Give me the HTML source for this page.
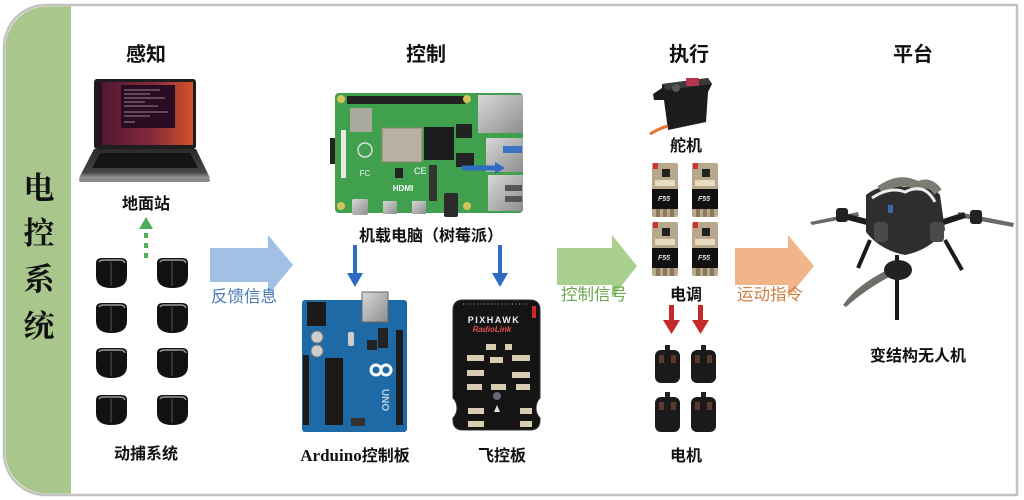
<!DOCTYPE html>
<html><head><meta charset="utf-8"><style>
html,body{margin:0;padding:0;background:#fff;}
svg{display:block;}
.h{font-family:"Liberation Sans","Noto Sans CJK SC",sans-serif;font-weight:bold;font-size:20px;fill:#111;text-anchor:middle;}
.l{font-family:"Liberation Sans","Noto Sans CJK SC",sans-serif;font-weight:bold;font-size:16px;fill:#111;text-anchor:middle;}
.a{font-family:"Liberation Sans","Noto Sans CJK SC",sans-serif;font-size:16.5px;text-anchor:middle;}
.v{font-family:"Liberation Serif","Noto Serif CJK SC",serif;font-weight:bold;font-size:31px;fill:#111;text-anchor:middle;}
</style></head><body>
<svg width="1024" height="500" viewBox="0 0 1024 500" xmlns="http://www.w3.org/2000/svg">
<defs>
<linearGradient id="scr" x1="0" y1="0" x2="1" y2="0"><stop offset="0" stop-color="#4a1634"/><stop offset="0.6" stop-color="#8a2a3a"/><stop offset="1" stop-color="#d2542a"/></linearGradient>
<linearGradient id="base" x1="0" y1="0" x2="0" y2="1"><stop offset="0" stop-color="#2a2a2a"/><stop offset="0.8" stop-color="#444"/><stop offset="1" stop-color="#9a9a9a"/></linearGradient>
<linearGradient id="slv" x1="0" y1="0" x2="1" y2="1"><stop offset="0" stop-color="#d8d8d8"/><stop offset="1" stop-color="#8e8e8e"/></linearGradient>
</defs>
<!-- frame -->
<path d="M46,5 H1017 V495 H46 A42,42 0 0 1 4,453 V47 A42,42 0 0 1 46,5 Z" fill="#fff" stroke="#c2c2c2" stroke-width="2.5"/>
<path d="M46,6.5 H71 V493.5 H46 A41,41 0 0 1 5.5,453 V47 A41,41 0 0 1 46,6.5 Z" fill="#a9c68d"/>
<text class="v" x="39" y="199">电</text>
<text class="v" x="39" y="244">控</text>
<text class="v" x="39" y="290">系</text>
<text class="v" x="39" y="337">统</text>

<!-- headings -->
<text class="h" x="146" y="61">感知</text>
<text class="h" x="426" y="61">控制</text>
<text class="h" x="689" y="61">执行</text>
<text class="h" x="913" y="61">平台</text>

<!-- laptop -->
<rect x="94" y="79" width="102" height="70" rx="3" fill="#1e1e1e"/>
<rect x="97" y="82" width="96" height="63" fill="url(#scr)"/>
<rect x="97" y="82" width="5" height="63" fill="#2d0f22"/>
<rect x="121" y="85" width="54" height="43" fill="#2a0c22"/>
<g stroke="#c9a9b8" stroke-width="0.8">
<line x1="124" y1="90" x2="160" y2="90"/><line x1="124" y1="94" x2="150" y2="94"/><line x1="124" y1="98" x2="165" y2="98"/>
<line x1="124" y1="102" x2="145" y2="102"/><line x1="124" y1="106" x2="158" y2="106"/><line x1="124" y1="112" x2="168" y2="112"/>
<line x1="124" y1="116" x2="150" y2="116"/><line x1="124" y1="122" x2="135" y2="122"/></g>
<polygon points="94,149 196,149 210,178 79,178" fill="url(#base)"/>
<polygon points="100,153 190,153 198,168 92,168" fill="#151515"/>
<rect x="79" y="178" width="131" height="4" rx="2" fill="#8a8a8a"/>
<text class="l" x="146" y="209">地面站</text>
<!-- dashed green arrow -->
<polygon points="146,217 139,229 153,229" fill="#4fae5a"/>
<g fill="#4fae5a"><rect x="144" y="233" width="4" height="5"/><rect x="144" y="243" width="4" height="5"/><rect x="144" y="253" width="4" height="5"/></g>

<!-- mocap cameras -->
<g id="cams">
<g transform="translate(96,258)"><path d="M0,5 Q0,0 6,0 H25 Q31,0 31,5 V18 Q31,30 15.5,30 Q0,30 0,18 Z" fill="#111"/><path d="M3,4 Q4,2 8,2 H24 Q28,2 29,5" stroke="#9a9a9a" stroke-width="1.5" fill="none"/><path d="M15,4 V28" stroke="#555" stroke-width="1"/></g>
<g transform="translate(157,258)"><path d="M0,5 Q0,0 6,0 H25 Q31,0 31,5 V18 Q31,30 15.5,30 Q0,30 0,18 Z" fill="#111"/><path d="M3,4 Q4,2 8,2 H24 Q28,2 29,5" stroke="#9a9a9a" stroke-width="1.5" fill="none"/><path d="M15,4 V28" stroke="#555" stroke-width="1"/></g>
<g transform="translate(96,303)"><path d="M0,5 Q0,0 6,0 H25 Q31,0 31,5 V18 Q31,30 15.5,30 Q0,30 0,18 Z" fill="#111"/><path d="M3,4 Q4,2 8,2 H24 Q28,2 29,5" stroke="#9a9a9a" stroke-width="1.5" fill="none"/><path d="M15,4 V28" stroke="#555" stroke-width="1"/></g>
<g transform="translate(157,303)"><path d="M0,5 Q0,0 6,0 H25 Q31,0 31,5 V18 Q31,30 15.5,30 Q0,30 0,18 Z" fill="#111"/><path d="M3,4 Q4,2 8,2 H24 Q28,2 29,5" stroke="#9a9a9a" stroke-width="1.5" fill="none"/><path d="M15,4 V28" stroke="#555" stroke-width="1"/></g>
<g transform="translate(96,348)"><path d="M0,5 Q0,0 6,0 H25 Q31,0 31,5 V18 Q31,30 15.5,30 Q0,30 0,18 Z" fill="#111"/><path d="M3,4 Q4,2 8,2 H24 Q28,2 29,5" stroke="#9a9a9a" stroke-width="1.5" fill="none"/><path d="M15,4 V28" stroke="#555" stroke-width="1"/></g>
<g transform="translate(157,348)"><path d="M0,5 Q0,0 6,0 H25 Q31,0 31,5 V18 Q31,30 15.5,30 Q0,30 0,18 Z" fill="#111"/><path d="M3,4 Q4,2 8,2 H24 Q28,2 29,5" stroke="#9a9a9a" stroke-width="1.5" fill="none"/><path d="M15,4 V28" stroke="#555" stroke-width="1"/></g>
<g transform="translate(96,395)"><path d="M0,5 Q0,0 6,0 H25 Q31,0 31,5 V18 Q31,30 15.5,30 Q0,30 0,18 Z" fill="#111"/><path d="M3,4 Q4,2 8,2 H24 Q28,2 29,5" stroke="#9a9a9a" stroke-width="1.5" fill="none"/><path d="M15,4 V28" stroke="#555" stroke-width="1"/></g>
<g transform="translate(157,395)"><path d="M0,5 Q0,0 6,0 H25 Q31,0 31,5 V18 Q31,30 15.5,30 Q0,30 0,18 Z" fill="#111"/><path d="M3,4 Q4,2 8,2 H24 Q28,2 29,5" stroke="#9a9a9a" stroke-width="1.5" fill="none"/><path d="M15,4 V28" stroke="#555" stroke-width="1"/></g>
</g>
<text class="l" x="146" y="459">动捕系统</text>

<!-- big arrows -->
<polygon points="210,248 268,248 268,235 293,265 268,295 268,282 210,282" fill="#a2c0e4"/>
<text class="a" x="244" y="302" fill="#4b79b6">反馈信息</text>
<polygon points="557,248 612,248 612,235 637,266 612,298 612,285 557,285" fill="#a9d08f"/>
<text class="a" x="594" y="300" fill="#6aa54c">控制信号</text>
<polygon points="735,248 788,248 788,235 814,266 788,298 788,285 735,285" fill="#f1b58a"/>
<text class="a" x="770" y="300" fill="#cf7e44">运动指令</text>

<!-- Raspberry Pi -->
<rect x="330" y="138" width="7" height="26" fill="#222"/>
<rect x="335" y="93" width="188" height="120" rx="4" fill="#41a04e"/>
<rect x="347" y="96" width="118" height="8" fill="#222"/>
<g fill="#d5c45c"><circle cx="341" cy="99" r="4"/><circle cx="467" cy="99" r="4"/><circle cx="341" cy="206" r="4"/><circle cx="467" cy="206" r="4"/></g>
<rect x="350" y="108" width="22" height="24" fill="#a9a9a0"/>
<rect x="341" y="130" width="5" height="48" fill="#e8e8e8"/>
<rect x="382" y="128" width="40" height="34" fill="#b9b0a2" stroke="#8d8576"/>
<rect x="424" y="127" width="30" height="33" fill="#1c1c1c"/>
<rect x="456" y="124" width="16" height="14" fill="#222"/>
<rect x="456" y="153" width="18" height="14" fill="#222"/>
<rect x="395" y="168" width="8" height="10" fill="#222"/>
<circle cx="365" cy="150" r="7" fill="none" stroke="#dcdcdc" stroke-width="1.5"/>
<text x="365" y="176" font-family="Liberation Sans" font-size="8" fill="#eee" text-anchor="middle">FC</text>
<text x="403" y="191" font-family="Liberation Sans" font-weight="bold" font-size="8" fill="#fff" text-anchor="middle">HDMI</text>
<text x="414" y="174" font-family="Liberation Sans" font-size="9" fill="#fff">CE</text>
<rect x="429" y="165" width="8" height="36" fill="#333"/>
<rect x="478" y="95" width="45" height="38" fill="url(#slv)"/>
<rect x="486" y="138" width="37" height="34" fill="url(#slv)"/>
<rect x="488" y="175" width="35" height="36" fill="url(#slv)"/>
<rect x="503" y="146" width="19" height="7" fill="#3b73c4"/>
<rect x="505" y="185" width="17" height="6" fill="#555"/>
<rect x="505" y="196" width="17" height="6" fill="#555"/>
<line x1="462" y1="168" x2="495" y2="168" stroke="#2e6cc4" stroke-width="5"/>
<polygon points="495,162 505,168 495,174" fill="#2e6cc4"/>
<rect x="352" y="199" width="16" height="16" rx="2" fill="url(#slv)"/>
<rect x="383" y="201" width="14" height="13" fill="url(#slv)"/>
<rect x="412" y="201" width="14" height="13" fill="url(#slv)"/>
<rect x="444" y="193" width="14" height="24" rx="2" fill="#2a2a2a"/>
<text class="l" x="431" y="241">机载电脑（树莓派）</text>
<!-- blue small arrows -->
<rect x="353" y="245" width="4" height="29" fill="#2e6cc4"/>
<polygon points="347,273 363,273 355,287" fill="#2e6cc4"/>
<rect x="498" y="245" width="4" height="29" fill="#2e6cc4"/>
<polygon points="492,273 508,273 500,287" fill="#2e6cc4"/>

<!-- Arduino -->
<rect x="302" y="300" width="105" height="132" rx="3" fill="#1d6aa7"/>
<rect x="307" y="302" width="19" height="24" fill="#1a1a1a"/>
<rect x="362" y="292" width="26" height="30" fill="url(#slv)" stroke="#666"/>
<rect x="396" y="330" width="7" height="95" fill="#1b1b1b"/>
<rect x="303" y="355" width="6" height="70" fill="#1b1b1b"/>
<circle cx="317" cy="337" r="6" fill="#ccc" stroke="#777"/>
<circle cx="317" cy="351" r="6" fill="#ccc" stroke="#777"/>
<rect x="325" y="358" width="18" height="67" fill="#1a1a1a"/>
<rect x="348" y="332" width="6" height="14" rx="2" fill="#ccc"/>
<rect x="367" y="340" width="10" height="10" fill="#222"/>
<rect x="378" y="328" width="10" height="20" fill="#222"/>
<g fill="none" stroke="#fff" stroke-width="3"><circle cx="376" cy="370" r="5"/><circle cx="386" cy="370" r="5"/></g>
<text x="382" y="400" font-family="Liberation Sans" font-weight="bold" font-size="10" fill="#bcd" transform="rotate(90 382 400)" text-anchor="middle">UNO</text>
<rect x="351" y="418" width="14" height="8" fill="#333"/>
<text x="355" y="461" class="l"><tspan font-family="Liberation Serif" font-size="17">Arduino</tspan>控制板</text>

<!-- Pixhawk -->
<path d="M463,300 H530 Q540,300 540,310 V398 Q536,402 536,408 Q536,414 540,418 V420 Q540,430 530,430 H463 Q453,430 453,420 V418 Q457,414 457,408 Q457,402 453,398 V310 Q453,300 463,300 Z" fill="#141414" stroke="#333"/>
<rect x="532" y="306" width="4" height="12" fill="#d02828"/>
<g stroke="#aaa" stroke-width="1"><line x1="463" y1="304" x2="528" y2="304" stroke-dasharray="1,2.5"/></g>
<text x="494" y="323" font-family="Liberation Sans" font-size="9" font-weight="bold" fill="#eee" text-anchor="middle" letter-spacing="1.5">PIXHAWK</text>
<text x="492" y="332" font-family="Liberation Sans" font-size="8" font-weight="bold" font-style="italic" fill="#e05050" text-anchor="middle">RadioLink</text>
<g fill="#d8cdb2">
<rect x="486" y="344" width="10" height="6"/><rect x="505" y="344" width="7" height="6"/>
<rect x="467" y="355" width="17" height="6"/><rect x="490" y="357" width="13" height="6"/><rect x="512" y="355" width="18" height="6"/>
<rect x="467" y="370" width="17" height="6"/><rect x="512" y="372" width="18" height="6"/>
<rect x="467" y="384" width="15" height="6"/><rect x="491" y="384" width="15" height="6"/><rect x="516" y="384" width="14" height="6"/>
<rect x="468" y="408" width="16" height="6"/><rect x="520" y="408" width="12" height="6"/>
<rect x="468" y="421" width="16" height="6"/><rect x="520" y="421" width="12" height="6"/>
</g>
<circle cx="497" cy="396" r="4" fill="#667"/>
<polygon points="497,405 494,412 500,412" fill="#ddd"/>
<text class="l" x="502" y="461">飞控板</text>

<!-- servo -->
<path d="M653,94 L662,88 L662,84 L708,78 L712,84 L708,92 L706,122 L668,130 L664,100 L654,100 Z" fill="#1c1c1c"/>
<path d="M662,84 L708,78 L712,84 L666,90 Z" fill="#3a3a3a"/>
<rect x="686" y="78" width="13" height="8" fill="#b3364d"/>
<circle cx="676" cy="88" r="4" fill="#555"/>
<path d="M650,134 Q660,128 668,126" stroke="#e5762a" stroke-width="3" fill="none"/>
<text class="l" x="686" y="151">舵机</text>

<!-- ESCs -->
<g id="esc">
<g transform="translate(652,163)"><rect width="26" height="54" rx="2" fill="#b8a98c"/><rect x="1" y="0" width="5" height="6" fill="#c33"/><rect x="10" y="6" width="8" height="8" fill="#222"/><rect x="3" y="17" width="20" height="6" fill="#e8dcc0"/><rect x="0" y="26" width="26" height="20" fill="#111"/><text x="12" y="38" font-family="Liberation Sans" font-style="italic" font-weight="bold" font-size="7" fill="#ddd" text-anchor="middle">F55</text><rect x="4" y="46" width="4" height="8" fill="#8a7a5a"/><rect x="11" y="46" width="4" height="8" fill="#8a7a5a"/><rect x="18" y="46" width="4" height="8" fill="#8a7a5a"/></g>
<g transform="translate(692,163)"><rect width="26" height="54" rx="2" fill="#b8a98c"/><rect x="1" y="0" width="5" height="6" fill="#c33"/><rect x="10" y="6" width="8" height="8" fill="#222"/><rect x="3" y="17" width="20" height="6" fill="#e8dcc0"/><rect x="0" y="26" width="26" height="20" fill="#111"/><text x="12" y="38" font-family="Liberation Sans" font-style="italic" font-weight="bold" font-size="7" fill="#ddd" text-anchor="middle">F55</text><rect x="4" y="46" width="4" height="8" fill="#8a7a5a"/><rect x="11" y="46" width="4" height="8" fill="#8a7a5a"/><rect x="18" y="46" width="4" height="8" fill="#8a7a5a"/></g>
<g transform="translate(652,222)"><rect width="26" height="54" rx="2" fill="#b8a98c"/><rect x="1" y="0" width="5" height="6" fill="#c33"/><rect x="10" y="6" width="8" height="8" fill="#222"/><rect x="3" y="17" width="20" height="6" fill="#e8dcc0"/><rect x="0" y="26" width="26" height="20" fill="#111"/><text x="12" y="38" font-family="Liberation Sans" font-style="italic" font-weight="bold" font-size="7" fill="#ddd" text-anchor="middle">F55</text><rect x="4" y="46" width="4" height="8" fill="#8a7a5a"/><rect x="11" y="46" width="4" height="8" fill="#8a7a5a"/><rect x="18" y="46" width="4" height="8" fill="#8a7a5a"/></g>
<g transform="translate(692,222)"><rect width="26" height="54" rx="2" fill="#b8a98c"/><rect x="1" y="0" width="5" height="6" fill="#c33"/><rect x="10" y="6" width="8" height="8" fill="#222"/><rect x="3" y="17" width="20" height="6" fill="#e8dcc0"/><rect x="0" y="26" width="26" height="20" fill="#111"/><text x="12" y="38" font-family="Liberation Sans" font-style="italic" font-weight="bold" font-size="7" fill="#ddd" text-anchor="middle">F55</text><rect x="4" y="46" width="4" height="8" fill="#8a7a5a"/><rect x="11" y="46" width="4" height="8" fill="#8a7a5a"/><rect x="18" y="46" width="4" height="8" fill="#8a7a5a"/></g>
</g>
<text class="l" x="686" y="300">电调</text>
<!-- red arrows -->
<rect x="669" y="305" width="5" height="16" fill="#c42a2a"/>
<polygon points="663,320 680,320 671.5,334" fill="#c42a2a"/>
<rect x="698" y="305" width="5" height="16" fill="#c42a2a"/>
<polygon points="692,320 709,320 700.5,334" fill="#c42a2a"/>

<!-- motors -->
<g>
<g transform="translate(655,345)"><rect x="10" y="0" width="5" height="6" fill="#222"/><rect x="0" y="5" width="25" height="33" rx="6" fill="#1a1a1a"/><rect x="4" y="10" width="5" height="8" fill="#5a3a2a"/><rect x="16" y="10" width="5" height="8" fill="#5a3a2a"/></g>
<g transform="translate(691,345)"><rect x="10" y="0" width="5" height="6" fill="#222"/><rect x="0" y="5" width="25" height="33" rx="6" fill="#1a1a1a"/><rect x="4" y="10" width="5" height="8" fill="#5a3a2a"/><rect x="16" y="10" width="5" height="8" fill="#5a3a2a"/></g>
<g transform="translate(655,392)"><rect x="10" y="0" width="5" height="6" fill="#222"/><rect x="0" y="5" width="25" height="35" rx="6" fill="#1a1a1a"/><rect x="4" y="10" width="5" height="8" fill="#5a3a2a"/><rect x="16" y="10" width="5" height="8" fill="#5a3a2a"/></g>
<g transform="translate(691,392)"><rect x="10" y="0" width="5" height="6" fill="#222"/><rect x="0" y="5" width="25" height="35" rx="6" fill="#1a1a1a"/><rect x="4" y="10" width="5" height="8" fill="#5a3a2a"/><rect x="16" y="10" width="5" height="8" fill="#5a3a2a"/></g>
</g>
<text class="l" x="686" y="461">电机</text>

<!-- drone -->
<g>
<path d="M810,222 L858,212 L859,216 L812,225 Z" fill="#6a6a6a"/>
<path d="M958,212 L1014,223 L1013,227 L958,217 Z" fill="#6a6a6a"/>
<path d="M840,215 L890,228" stroke="#1e1e1e" stroke-width="6"/>
<path d="M965,215 L925,228" stroke="#1e1e1e" stroke-width="6"/>
<rect x="836" y="208" width="12" height="14" rx="3" fill="#222"/>
<rect x="970" y="210" width="12" height="14" rx="3" fill="#222"/>
<path d="M866,195 Q880,183 905,187 Q930,182 940,195 L945,230 Q930,250 905,255 Q880,250 866,232 Z" fill="#2e2e2e"/>
<path d="M880,190 Q900,176 918,186 Q930,180 938,192" stroke="#7c7c74" stroke-width="9" fill="none"/>
<path d="M872,198 Q890,186 905,192 Q925,182 935,202" stroke="#ececec" stroke-width="3" fill="none"/>
<rect x="874" y="222" width="14" height="20" rx="4" fill="#4a4a4a"/>
<rect x="930" y="222" width="14" height="20" rx="4" fill="#4a4a4a"/>
<rect x="888" y="205" width="5" height="8" fill="#3a6aa0"/>
<path d="M870,240 L858,268" stroke="#1a1a1a" stroke-width="4"/>
<path d="M945,240 L962,270" stroke="#1a1a1a" stroke-width="4"/>
<path d="M897,255 L897,320" stroke="#1a1a1a" stroke-width="4"/>
<path d="M843,305 Q860,280 905,262 L907,268 Q870,285 846,307 Z" fill="#6f6f6a"/>
<ellipse cx="898" cy="270" rx="14" ry="10" fill="#222"/>
</g>
<text class="l" x="918" y="361">变结构无人机</text>
</svg>
</body></html>
